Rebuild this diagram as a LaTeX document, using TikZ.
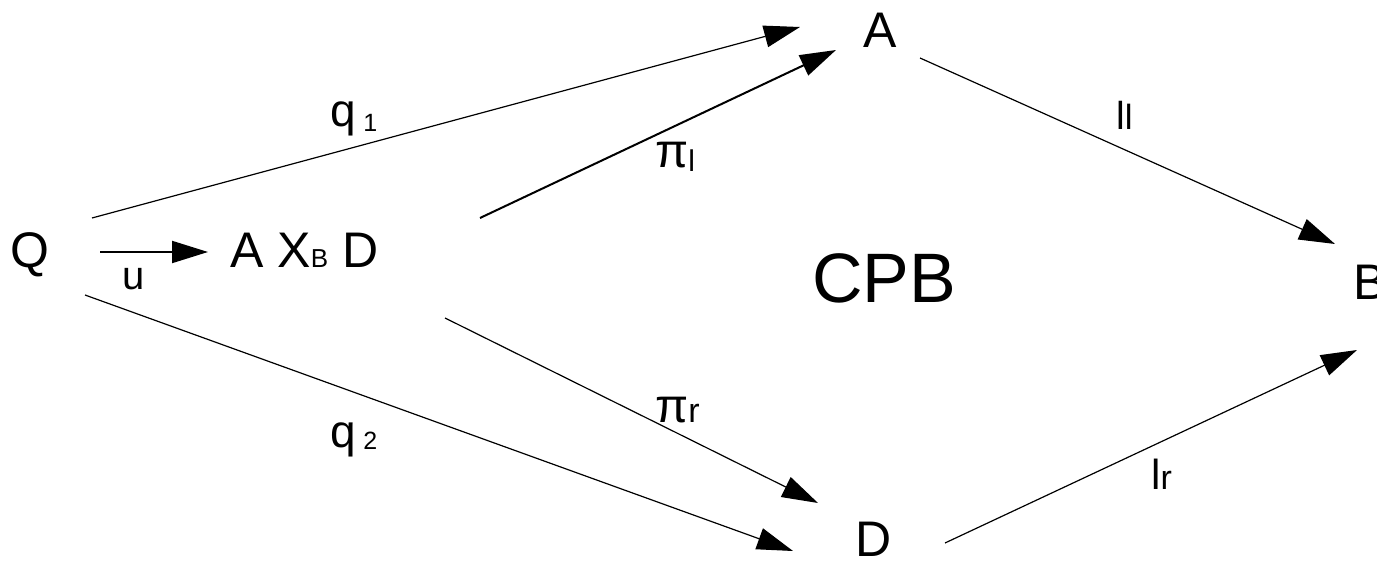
\documentclass[tikz,border=0pt]{standalone}
\usepackage{fontspec}
\setmainfont{Liberation Sans}
\usetikzlibrary{arrows.meta}
\newcommand\fsz[1]{\fontsize{#1}{#1}\selectfont}
\newcommand\lowsub[3]{\raisebox{-#2pt}{\fsz{#1}#3}}
\begin{document}
\begin{tikzpicture}[x=1pt,y=-1pt,
  obj/.style={inner sep=0pt, anchor=base, font=\fsz{50}},
  lbl/.style={inner sep=0pt, anchor=base west, font=\fsz{42}},
  arr/.style={-{Triangle[length=36pt,width=22pt]}, line width=1.2pt},
  thickarr/.style={arr, line width=2pt}]
\useasboundingbox (0,0) rectangle (1377,561);
% objects
\node[obj] (Q) at (30,268) {Q};
\node[obj, anchor=base west] (P) at (230,268) {A X\lowsub{26}{0}{B} D};
\node[obj] (A) at (880,48) {A};
\node[obj] (D) at (874,556) {D};
\node[obj, anchor=base west] (B) at (1353,300) {B};
\node[inner sep=0pt, anchor=base, font=\fsz{70}] (cpb) at (884,303) {CPB};
% arrow end points
\coordinate (q1s) at (92,218);   \coordinate (q1e) at (800,27);
\coordinate (pls) at (480,218);  \coordinate (ple) at (836,50);
\coordinate (lls) at (920,58);   \coordinate (lle) at (1335,244);
\coordinate (us)  at (100,252);  \coordinate (ue)  at (208,252);
\coordinate (q2s) at (85,295);   \coordinate (q2e) at (793,551);
\coordinate (prs) at (445,318);  \coordinate (pre) at (818,503);
\coordinate (lrs) at (945,543);  \coordinate (lre) at (1357,350);
% connectors
\draw[arr] (q1s) -- (q1e);
\draw[thickarr] (pls) -- (ple);
\draw[arr] (lls) -- (lle);
\draw[thickarr] (us) -- (ue);
\draw[arr] (q2s) -- (q2e);
\draw[arr] (prs) -- (pre);
\draw[arr] (lrs) -- (lre);
% labels
\node[lbl, font=\fsz{46}] (lq1) at (330,127) {q\,\lowsub{25}{5}{1}};
\node[lbl, font=\fsz{46}] (lq2) at (330,447) {q\,\lowsub{25}{2}{2}};
\node[lbl, font=\fsz{40}, anchor=base] (lu) at (134,290) {u};
\node[lbl, font=\fsz{48}] (lpl) at (655,168) {π\lowsub{30}{4}{l}};
\node[lbl, font=\fsz{48}] (lpr) at (655,422) {π\lowsub{34}{0}{r}};
\node[lbl, font=\fsz{39}] (lll) at (1116,130) {l\lowsub{35}{0}{l}};
\node[lbl, font=\fsz{42}] (llr) at (1151,489) {l\lowsub{34}{0}{r}};
\end{tikzpicture}
\end{document}
